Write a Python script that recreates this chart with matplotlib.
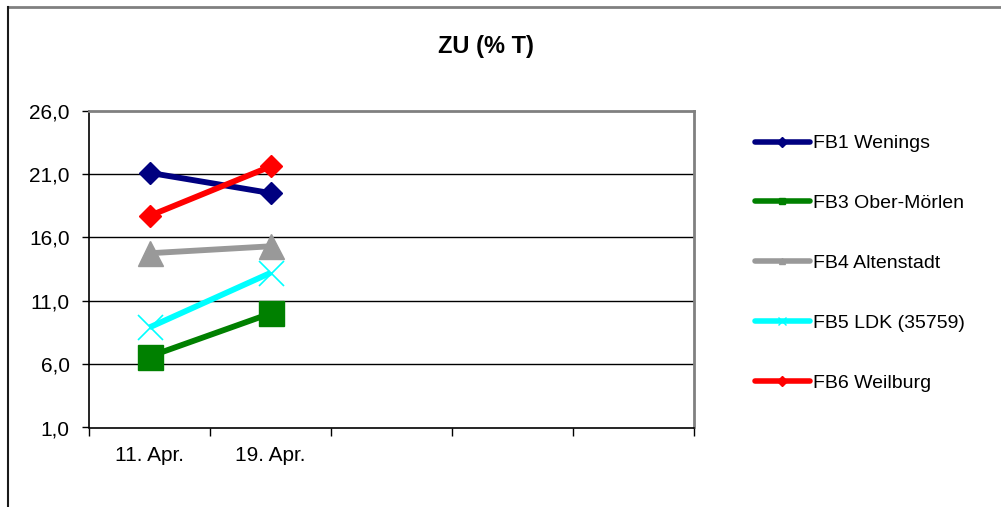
import matplotlib
matplotlib.use('Agg')
import matplotlib.pyplot as plt
from matplotlib.lines import Line2D

plt.rcParams['font.family'] = ['Liberation Sans', 'DejaVu Sans']

# data
dates = ['11. Apr.', '19. Apr.']
n_slots = 5  # the category axis has room for five dates
fb1_wenings = [21.1, 19.5]
fb3_ober_moerlen = [6.6, 10.0]
fb4_altenstadt = [14.75, 15.3]
fb5_ldk = [8.9, 13.2]
fb6_weilburg = [17.7, 21.6]

series = [
    ('FB1 Wenings', fb1_wenings, '#000080', 'D', 11),
    ('FB3 Ober-Mörlen', fb3_ober_moerlen, '#008000', 's', 18),
    ('FB4 Altenstadt', fb4_altenstadt, '#999999', '^', 18),
    ('FB5 LDK (35759)', fb5_ldk, '#00FFFF', 'x', 18),
    ('FB6 Weilburg', fb6_weilburg, '#FF0000', 'D', 11),
]

fig = plt.figure(figsize=(10.01, 5.07), dpi=100)
ax = fig.add_axes([89 / 1001, 1 - 427.5 / 507, (694 - 89) / 1001, (427.5 - 110.7) / 507])

x = list(range(len(dates)))
handles = []
for name, vals, col, mk, ms in series:
    ax.plot(x, vals, color=col, lw=4.2, marker=mk, ms=ms, mec=col, mfc=col,
            mew=1.2 if mk == 'x' else 1, zorder=3, solid_capstyle='butt')
    h, = ax.plot([], [], color=col, lw=4, marker=mk, ms=5 if mk != 'x' else 6,
                 mec=col, mfc=col, solid_capstyle='round')
    handles.append((h, name))

ax.set_ylim(1, 26)
ax.set_yticks([1, 6, 11, 16, 21, 26])
ax.set_yticklabels([f'{v:.1f}'.replace('.', ',') for v in [1, 6, 11, 16, 21, 26]])
for g in [6, 11, 16, 21]:
    ax.axhline(g, color='black', lw=1, zorder=1)

ax.set_xlim(-0.5, n_slots - 0.5)
ax.set_xticks([i - 0.5 for i in range(n_slots + 1)])
ax.set_xticklabels([])
ax.set_xticks(x, minor=True)
ax.set_xticklabels(dates, minor=True)
ax.tick_params(axis='x', which='minor', length=0, pad=13, labelsize=15)
ax.tick_params(axis='x', which='major', length=6, direction='out', width=1)
ax.tick_params(axis='y', length=5, direction='out', width=1, labelsize=15, pad=9)

for s in ['left', 'bottom']:
    ax.spines[s].set_color('black')
    ax.spines[s].set_linewidth(1.2)
for s in ['top', 'right']:
    ax.spines[s].set_color('#808080')
    ax.spines[s].set_linewidth(2)

fig.text(486 / 1001, 1 - 46 / 507, 'ZU (% T)', ha='center', va='center',
         fontsize=17, fontweight='bold')

fig.legend([h for h, _ in handles], [n for _, n in handles],
           loc='upper left', bbox_to_anchor=(747 / 1001, 1 - 127 / 507),
           frameon=False, fontsize=14, handlelength=2.83, handletextpad=0.15,
           labelspacing=2.17, borderaxespad=0)

# outer chart border, cut off by the image edge on the right and bottom
bx, by = 8.3 / 1001, 1 - 7.3 / 507
fig.lines.append(Line2D([bx, 1.01], [by, by], transform=fig.transFigure,
                        color='#808080', lw=2))
fig.lines.append(Line2D([bx, bx], [-0.01, by], transform=fig.transFigure,
                        color='#1a1a1a', lw=1.5))

fig.savefig('out.png', dpi=100)
